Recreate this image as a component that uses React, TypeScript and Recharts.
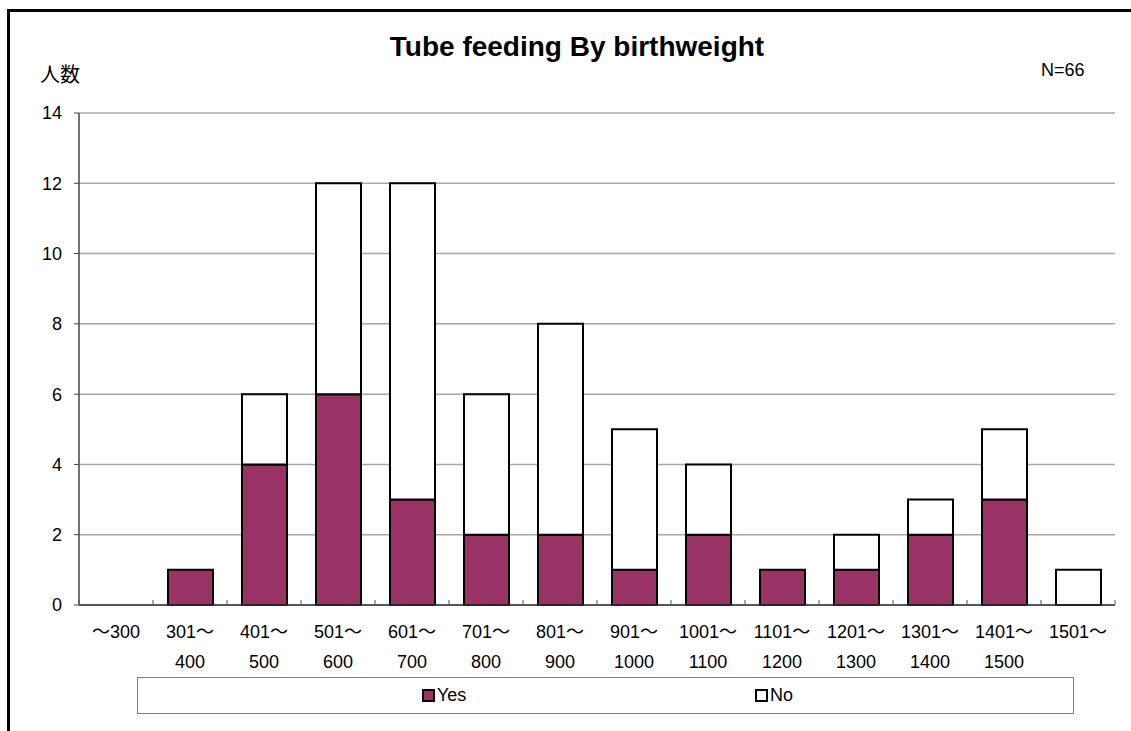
import { Bar, BarChart, CartesianGrid, XAxis, YAxis } from "recharts";

const FONT = "'Liberation Sans', 'Noto Sans CJK JP', sans-serif";

const lowLabels = ["～300", "301～", "401～", "501～", "601～", "701～", "801～", "901～", "1001～", "1101～", "1201～", "1301～", "1401～", "1501～"];
const highLabels = ["", "400", "500", "600", "700", "800", "900", "1000", "1100", "1200", "1300", "1400", "1500", ""];
const yesValues = [0, 1, 4, 6, 3, 2, 2, 1, 2, 1, 1, 2, 3, 0];
const noValues = [0, 0, 2, 6, 9, 4, 6, 4, 2, 0, 1, 1, 2, 1];
const yTicks = [0, 2, 4, 6, 8, 10, 12, 14];

const data = lowLabels.map((low, i) => ({
  name: low + highLabels[i],
  yes: yesValues[i],
  no: noValues[i],
}));

// two-line label plus a short inward tick at each category boundary
const CategoryTick = (props: any) => {
  const { x, y, payload } = props;
  const i = data.findIndex((d) => d.name === payload.value);
  const half = payload.offset || 37;
  const axisY = y - 6;
  return (
    <g>
      <line x1={x - half} x2={x - half} y1={axisY} y2={axisY - 5} stroke="#555" />
      {i === data.length - 1 && <line x1={x + half} x2={x + half} y1={axisY} y2={axisY - 5} stroke="#555" />}
      <text x={x} textAnchor="middle" fontSize={18} fontFamily={FONT} fill="#000">
        <tspan x={x} y={y + 27}>{lowLabels[i]}</tspan>
        {highLabels[i] && <tspan x={x} y={y + 57}>{highLabels[i]}</tspan>}
      </text>
    </g>
  );
};

const LegendMark = ({ fill }: { fill: string }) => (
  <span
    style={{
      display: "inline-block",
      width: 9,
      height: 9,
      background: fill,
      border: "2px solid #000",
      marginRight: 2,
      verticalAlign: "-1px",
    }}
  />
);

export default function App() {
  return (
    <div style={{ position: "absolute", left: 0, top: 0, width: 1131, height: 731, background: "#fff", fontFamily: FONT }}>
      <div
        style={{
          position: "absolute",
          left: 7,
          top: 9,
          width: 1130,
          height: 730,
          borderTop: "3px solid #000",
          borderLeft: "3px solid #000",
        }}
      />
      <div style={{ position: "absolute", left: 0, width: 1154, top: 31, textAlign: "center", fontSize: 28, fontWeight: "bold", lineHeight: "32px" }}>
        Tube feeding By birthweight
      </div>
      <div style={{ position: "absolute", left: 40, top: 59, fontSize: 20 }}>人数</div>
      <div style={{ position: "absolute", left: 1041, top: 60, fontSize: 18 }}>N=66</div>

      <BarChart
        width={1131}
        height={731}
        data={data}
        margin={{ top: 113, right: 16, bottom: 66, left: 39 }}
        style={{ position: "absolute", left: 0, top: 0 }}
      >
        <CartesianGrid vertical={false} stroke="#a8a8a8" strokeWidth={1.5} />
        <XAxis
          dataKey="name"
          height={60}
          interval={0}
          tick={<CategoryTick />}
          tickLine={false}
          tickSize={6}
          tickMargin={0}
          axisLine={{ stroke: "#333", strokeWidth: 1.5 }}
        />
        <YAxis
          domain={[0, 14]}
          ticks={yTicks}
          width={40}
          tickSize={5}
          tickMargin={12}
          tick={{ fontSize: 18, fill: "#000", fontFamily: FONT }}
          tickLine={{ stroke: "#444" }}
          axisLine={{ stroke: "#444", strokeWidth: 1.5 }}
        />
        <YAxis
          yAxisId="frame"
          orientation="right"
          domain={[0, 14]}
          width={0}
          tick={false}
          tickLine={false}
          axisLine={{ stroke: "#888", strokeWidth: 2 }}
        />
        <Bar dataKey="yes" stackId="a" fill="#993366" stroke="#000" strokeWidth={2} barSize={45} isAnimationActive={false} />
        <Bar dataKey="no" stackId="a" fill="#fff" stroke="#000" strokeWidth={2} barSize={45} isAnimationActive={false} />
      </BarChart>

      <div
        style={{
          position: "absolute",
          left: 137,
          top: 677,
          width: 935,
          height: 35,
          border: "1px solid #808080",
          fontSize: 18,
          lineHeight: "35px",
        }}
      >
        <span style={{ position: "absolute", left: 284 }}>
          <LegendMark fill="#993366" />Yes
        </span>
        <span style={{ position: "absolute", left: 617 }}>
          <LegendMark fill="#fff" />No
        </span>
      </div>
    </div>
  );
}
